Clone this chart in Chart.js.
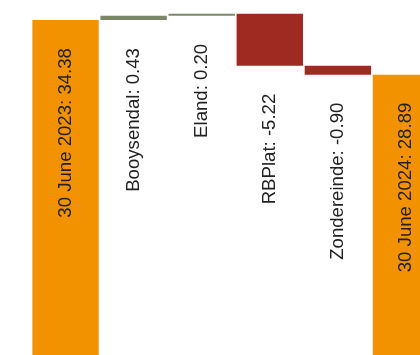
<!DOCTYPE html>
<html>
<head>
<meta charset="utf-8">
<script src="https://cdn.jsdelivr.net/npm/chart.js@4.4.1/dist/chart.umd.min.js"></script>
<style>
html, body { margin: 0; padding: 0; background: #fff; overflow: hidden; width: 420px; height: 355px; }
#wrap { position: absolute; left: 0; top: 0; width: 440px; height: 362px; }
</style>
</head>
<body>
<div id="wrap"><canvas id="waterfall" width="440" height="362"></canvas></div>
<script>
// waterfall values
const categories = ['30 June 2023', 'Booysendal', 'Eland', 'RBPlat', 'Zondereinde', '30 June 2024'];
const values = [34.38, 0.43, 0.20, -5.22, -0.90, 28.89];
const isTotal = [true, false, false, false, false, true];

const ORANGE = '#F39200';
const GREEN = '#7C8767';
const RED = '#9E2A21';

// build floating bars [start, end]
let running = 0;
const ranges = [];
const colors = [];
for (let i = 0; i < values.length; i++) {
    if (isTotal[i]) {
        ranges.push([0, values[i]]);
        running = values[i];
        colors.push(ORANGE);
    } else {
        ranges.push([running, running + values[i]]);
        running += values[i];
        colors.push(values[i] >= 0 ? GREEN : RED);
    }
}

const barLabels = {
    id: 'barLabels',
    afterDatasetsDraw(chart) {
        const ctx = chart.ctx;
        const meta = chart.getDatasetMeta(0);
        ctx.save();
        ctx.font = '18.6px "Liberation Sans", Arial, sans-serif';
        ctx.fillStyle = '#222';
        ctx.textAlign = 'right';
        ctx.textBaseline = 'middle';
        meta.data.forEach(function(bar, i) {
            const top = Math.min(bar.y, bar.base);
            const bottom = Math.max(bar.y, bar.base);
            const anchor = isTotal[i] ? top : bottom;
            ctx.save();
            ctx.translate(bar.x, anchor + 28);
            ctx.rotate(-Math.PI / 2);
            ctx.fillText(categories[i] + ': ' + values[i].toFixed(2), 0, 0);
            ctx.restore();
        });
        ctx.restore();
    }
};

new Chart(document.getElementById('waterfall'), {
    type: 'bar',
    data: {
        labels: categories,
        datasets: [{
            data: ranges,
            backgroundColor: colors,
            borderWidth: 0,
            categoryPercentage: 1,
            barPercentage: 0.975
        }]
    },
    options: {
        responsive: false,
        animation: false,
        devicePixelRatio: 1,
        layout: { padding: { left: 31.5, right: 0, top: 0, bottom: 0 } },
        plugins: {
            legend: { display: false },
            tooltip: { enabled: false }
        },
        scales: {
            x: { display: false },
            y: { display: false, min: 0, max: 36.4 }
        }
    },
    plugins: [barLabels]
});
</script>
</body>
</html>
